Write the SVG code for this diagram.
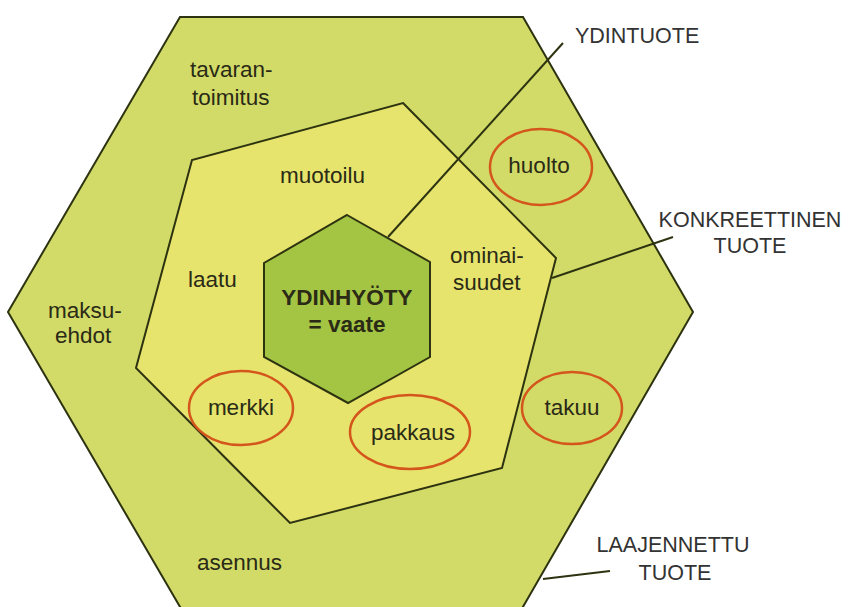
<svg xmlns="http://www.w3.org/2000/svg" width="851" height="607" viewBox="0 0 851 607">
<style>
.shape{stroke:#2d3310;stroke-width:2;stroke-linejoin:miter}
.outer{fill:#d2db68}
.mid{fill:#e6e46c}
.core{fill:#a4c443}
.ring{fill:none;stroke:#d4561c;stroke-width:2.5}
.t{font-family:"Liberation Sans",Arial,sans-serif;font-size:22.5px;fill:#2a2a16}
.b{font-weight:bold}
.lab{font-family:"Liberation Sans",Arial,sans-serif;font-size:21.5px;fill:#333333}
.lead{stroke:#2d3310;stroke-width:2;fill:none}
</style>
<rect width="851" height="607" fill="#ffffff"/>
<g id="laajennettu-tuote">
<polygon class="shape outer" points="180,17 523,17 693,312 520,612 183,612 8,312"/>
<text class="t" x="190" y="77">tavaran-</text>
<text class="t" x="192" y="105">toimitus</text>
<text class="t" x="48" y="318">maksu-</text>
<text class="t" x="55" y="343">ehdot</text>
<text class="t" x="197" y="570">asennus</text>
</g>
<g id="konkreettinen-tuote">
<polygon class="shape mid" points="403,103 556,258 502,468 290,523 136,368 192,160"/>
<text class="t" x="280" y="183">muotoilu</text>
<text class="t" x="188" y="287">laatu</text>
<text class="t" x="450" y="263">ominai-</text>
<text class="t" x="453" y="290">suudet</text>
</g>
<g id="huolto">
<ellipse class="ring" cx="541" cy="167" rx="51" ry="38"/>
<text class="t" x="539" y="173" text-anchor="middle">huolto</text>
</g>
<g id="takuu">
<ellipse class="ring" cx="572" cy="408" rx="50" ry="36"/>
<text class="t" x="572" y="415" text-anchor="middle">takuu</text>
</g>
<g id="merkki">
<ellipse class="ring" cx="241" cy="408" rx="52" ry="37"/>
<text class="t" x="241" y="415" text-anchor="middle">merkki</text>
</g>
<g id="pakkaus">
<ellipse class="ring" cx="410" cy="432" rx="60" ry="37"/>
<text class="t" x="413" y="440" text-anchor="middle">pakkaus</text>
</g>
<g id="ydinhyoty">
<polygon class="shape core" points="347,215 430,262 430,357 348,403 264,357 264,263"/>
<text class="t b" x="347" y="305" text-anchor="middle">YDINHYÖTY</text>
<text class="t b" x="347" y="332" text-anchor="middle">= vaate</text>
</g>
<g id="connectors">
<line class="lead" x1="388" y1="237" x2="563" y2="43"/>
<line class="lead" x1="552" y1="278" x2="673" y2="237"/>
<line class="lead" x1="543" y1="579" x2="610" y2="571"/>
</g>
<g id="labels">
<text class="lab" x="575" y="43">YDINTUOTE</text>
<text class="lab" x="750" y="227" text-anchor="middle">KONKREETTINEN</text>
<text class="lab" x="750" y="253" text-anchor="middle">TUOTE</text>
<text class="lab" x="673" y="552" text-anchor="middle">LAAJENNETTU</text>
<text class="lab" x="675" y="580" text-anchor="middle">TUOTE</text>
</g>
</svg>
